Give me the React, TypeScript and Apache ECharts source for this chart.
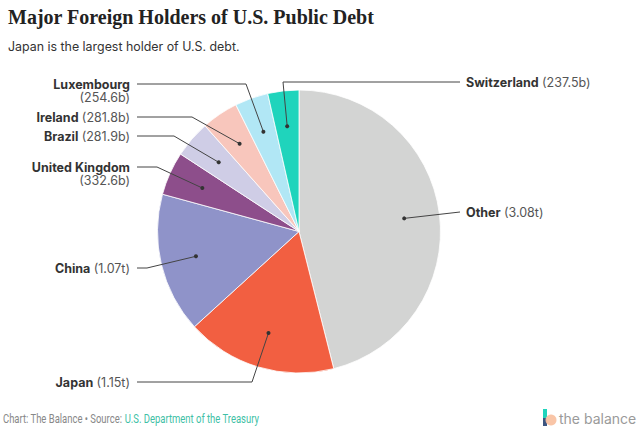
import React, { useEffect, useRef } from "react";
import * as echarts from "echarts";

const names = ["Other", "Japan", "China", "United Kingdom", "Brazil", "Ireland", "Luxembourg", "Switzerland"];
const values = [3080, 1150, 1070, 332.6, 281.9, 281.8, 254.6, 237.5]; // billions of USD
const valueLabels = ["3.08t", "1.15t", "1.07t", "332.6b", "281.9b", "281.8b", "254.6b", "237.5b"];
const colors = ["#d3d4d3", "#f25f41", "#8f93c9", "#8d4e8b", "#cfcde6", "#f8c6bc", "#b1e7f5", "#1fd4bc"];

// label layout (positions only)
const labelLayout = [
  { side: "right", y: 212, elbowX: null as number | null, twoLine: false },
  { side: "left", y: 382, elbowX: 252, twoLine: false },
  { side: "left", y: 268, elbowX: 147, twoLine: false },
  { side: "left", y: 167, elbowX: 157, twoLine: true },
  { side: "left", y: 136, elbowX: 174, twoLine: false },
  { side: "left", y: 117, elbowX: 192, twoLine: false },
  { side: "left", y: 84, elbowX: 246, twoLine: true },
  { side: "right", y: 82, elbowX: 283, twoLine: false },
];

const CX = 299;
const CY = 231.5;
const R = 141.5;
const DOT_R = 106;
const FONT = "Inter, 'Noto Sans', sans-serif";
const FOOT = "Roboto, 'Noto Sans', sans-serif";

export default function App() {
  const ref = useRef<HTMLDivElement>(null);
  useEffect(() => {
    if (!ref.current) return;
    const chart = echarts.init(ref.current, null, { renderer: "svg" });
    const total = values.reduce((a, b) => a + b, 0);
    const graphics: any[] = [];
    let cum = 0;
    values.forEach((v, i) => {
      const mid = ((cum + v / 2) / total) * Math.PI * 2;
      cum += v;
      const dx = CX + DOT_R * Math.sin(mid);
      const dy = CY - DOT_R * Math.cos(mid);
      const L = labelLayout[i];
      const pts: number[][] = [[dx, dy]];
      if (L.elbowX != null) pts.push([L.elbowX, L.y]);
      pts.push([L.side === "right" ? 460 : 137, L.y]);
      graphics.push({
        type: "polyline",
        shape: { points: pts },
        style: { stroke: "#444", lineWidth: 1, fill: null },
        silent: true,
        z: 10,
      });
      graphics.push({
        type: "circle",
        shape: { cx: dx, cy: dy, r: 2 },
        style: { fill: "#333" },
        silent: true,
        z: 11,
      });
      const rich = {
        b: { fontFamily: FONT, fontSize: 12.5, fontWeight: "bold", fill: "#333", color: "#333" },
        v: { fontFamily: FONT, fontSize: 12.5, fontWeight: "normal", fill: "#555", color: "#555" },
      };
      if (L.side === "right") {
        graphics.push({
          type: "text",
          x: 466,
          y: L.y,
          silent: true,
          style: { text: `{b|${names[i]}} {v|(${valueLabels[i]})}`, rich, align: "left", verticalAlign: "middle" },
        });
      } else if (L.twoLine) {
        graphics.push({
          type: "text",
          x: 130,
          y: L.y,
          silent: true,
          style: { text: `{b|${names[i]}}`, rich, align: "right", verticalAlign: "middle" },
        });
        graphics.push({
          type: "text",
          x: 130,
          y: L.y + 13.5,
          silent: true,
          style: { text: `{v|(${valueLabels[i]})}`, rich, align: "right", verticalAlign: "middle" },
        });
      } else {
        graphics.push({
          type: "text",
          x: 130,
          y: L.y,
          silent: true,
          style: { text: `{b|${names[i]}} {v|(${valueLabels[i]})}`, rich, align: "right", verticalAlign: "middle" },
        });
      }
    });

    // title, subtitle
    graphics.push({
      type: "text",
      x: 8,
      y: 17,
      silent: true,
      style: {
        text: "Major Foreign Holders of U.S. Public Debt",
        font: "bold 20px 'Liberation Serif', 'DejaVu Serif', serif",
        fill: "#222",
        verticalAlign: "middle",
      },
    });
    graphics.push({
      type: "text",
      x: 8,
      y: 46,
      silent: true,
      style: { text: "Japan is the largest holder of U.S. debt.", font: `12.4px ${FONT}`, fill: "#333", verticalAlign: "middle" },
    });
    // footer
    graphics.push({
      type: "text",
      x: 3,
      y: 419,
      scaleX: 0.79,
      silent: true,
      style: {
        text: "{a|Chart: The Balance • Source: }{b|U.S. Department of the Treasury}",
        verticalAlign: "middle",
        rich: {
          a: { fontFamily: FOOT, fontSize: 12, fill: "#888", color: "#888" },
          b: { fontFamily: FOOT, fontSize: 12, fill: "#3fbfa6", color: "#3fbfa6" },
        },
      },
    });
    // logo
    graphics.push({ type: "rect", shape: { x: 543, y: 409, width: 4, height: 10 }, style: { fill: "#1fd4bc" }, silent: true });
    graphics.push({ type: "rect", shape: { x: 543, y: 418, width: 4, height: 8 }, style: { fill: "#3d5580" }, silent: true });
    graphics.push({ type: "circle", shape: { cx: 551, cy: 420, r: 5.5 }, style: { fill: "#f9c2a2", opacity: 0.95 }, silent: true });
    graphics.push({
      type: "text",
      x: 559,
      y: 418,
      silent: true,
      style: { text: "the balance", font: `14px ${FONT}`, fill: "#9a9a9a", verticalAlign: "middle" },
    });

    chart.setOption({
      animation: false,
      backgroundColor: "#fff",
      series: [
        {
          type: "pie",
          center: [CX, CY],
          radius: [0, R],
          startAngle: 90,
          clockwise: true,
          silent: true,
          label: { show: false },
          labelLine: { show: false },
          itemStyle: { borderColor: "#fff", borderWidth: 0.8 },
          data: names.map((n, i) => ({ name: n, value: values[i], itemStyle: { color: colors[i] } })),
        },
      ],
      graphic: graphics,
    });
    return () => chart.dispose();
  }, []);
  return <div ref={ref} style={{ position: "fixed", left: 0, top: 0, width: 643, height: 433 }} />;
}
